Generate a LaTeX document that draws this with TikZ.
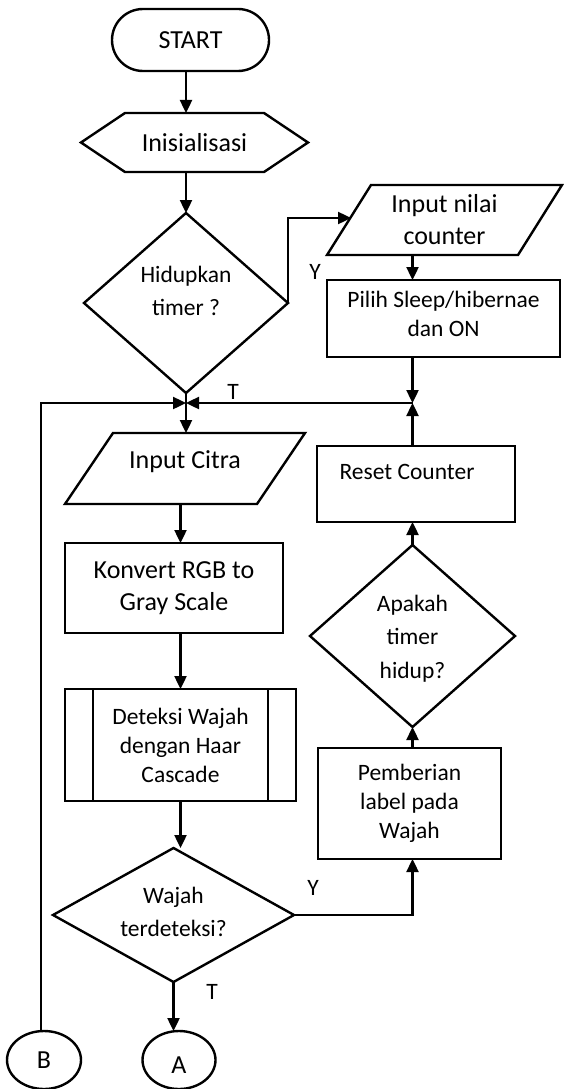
\documentclass[tikz,border=0pt]{standalone}
\usepackage{fontspec}
\setmainfont{Carlito}
\usetikzlibrary{shapes.geometric,shapes.misc,arrows.meta}

\begin{document}
\begin{tikzpicture}[x=1pt,y=-1pt,
  line width=2.4pt,
  big/.style={font=\fontsize{26}{32}\selectfont},
  small/.style={font=\fontsize{23.5}{29}\selectfont},
  frame/.style={draw, rectangle, inner sep=0pt, outer sep=0pt, align=center},
  blank/.style={rectangle, inner sep=0pt, outer sep=0pt, align=center},
  dia/.style={draw, diamond, inner sep=0pt, outer sep=0pt},
  oval/.style={draw, ellipse, inner sep=0pt, outer sep=0pt, big},
  conn/.style={-{Triangle[length=13pt,width=12pt]}},
  lbl/.style={small, inner sep=0pt},
]
\useasboundingbox (0,0) rectangle (563,1089);

% ---------- left column ----------
\node[draw, rounded rectangle, inner sep=0pt, outer sep=0pt, big,
      minimum width=157pt, minimum height=62pt] (start) at (190.5,40) {START};

\node[blank, big, minimum width=227pt, minimum height=59pt] (ini) at (194.5,142.5) {Inisialisasi};
\draw ([xshift=44pt]ini.north west) -- ([xshift=-44pt]ini.north east) -- (ini.east)
  -- ([xshift=-44pt]ini.south east) -- ([xshift=44pt]ini.south west) -- (ini.west) -- cycle;

\node[dia, minimum width=204pt, minimum height=180pt,
      label={[small, align=center, yshift=12pt, font=\fontsize{23.5}{33}\selectfont]center:Hidupkan\\timer ?}]
      (q1) at (186,303) {};

\coordinate (J) at (186,403);

\node[blank, minimum width=240pt, minimum height=71pt,
      label={[big, yshift=6.5pt]center:Input Citra}] (cit) at (185,468.5) {};
\draw ([xshift=48pt]cit.north west) -- (cit.north east) -- ([xshift=-48pt]cit.south east)
  -- (cit.south west) -- cycle;

\node[frame, big, minimum width=218pt, minimum height=90pt] (konv) at (174,588)
  {Konvert RGB to\\Gray Scale};

\node[frame, small, minimum width=231pt, minimum height=112pt] (det) at (180.5,745)
  {Deteksi Wajah\\dengan Haar\\Cascade};
\draw ([xshift=28pt]det.north west) -- ([xshift=28pt]det.south west);
\draw ([xshift=-28pt]det.north east) -- ([xshift=-28pt]det.south east);

\node[dia, minimum width=241pt, minimum height=134pt,
      label={[align=center, yshift=3.5pt, font=\fontsize{23.5}{33}\selectfont]center:Wajah\\terdeteksi?}]
      (q3) at (173.5,915) {};

\node[oval, minimum width=73pt, minimum height=58pt,
      label={[big, yshift=-5pt]center:A}] (A) at (179,1060) {};
\node[oval, minimum width=74pt, minimum height=58pt] (B) at (44,1060) {B};

% ---------- right column ----------
\node[blank, big, minimum width=235pt, minimum height=70pt] (inp2) at (444.5,220)
  {Input nilai\\counter};
\draw ([xshift=44pt]inp2.north west) -- (inp2.north east) -- ([xshift=-44pt]inp2.south east)
  -- (inp2.south west) -- cycle;
\coordinate (yin) at (351,218);

\node[frame, minimum width=233pt, minimum height=77pt,
      label={[small, align=center, yshift=5pt]center:Pilih Sleep/hibernae\\dan ON}]
      (pilih) at (443.5,318.5) {};

\coordinate (K) at (412.5,403);

\node[frame, minimum width=198pt, minimum height=76pt,
      label={[small, xshift=-9pt, yshift=12pt]center:Reset Counter}]
      (reset) at (416,484) {};

\node[dia, minimum width=205pt, minimum height=182pt,
      label={[align=center, yshift=-2.5pt, font=\fontsize{23.5}{33.5}\selectfont]center:Apakah\\timer\\hidup?}]
      (q2) at (412.5,636) {};

\node[frame, small, minimum width=183pt, minimum height=111pt] (pemb) at (409.5,803.5)
  {Pemberian\\label pada\\Wajah};

% ---------- connectors ----------
\draw[conn] (start.south -| q1.north) -- (ini.north -| q1.north);
\draw[conn] (ini.south -| q1.north) -- (q1.north);
\draw[conn] (q1.east) |- (yin);
\draw (q1.south) -- (J);
\draw[conn] (inp2.south -| K) -- (pilih.north -| K);
\draw[conn] (pilih.south -| K) -- (K);
\draw[conn] (reset.north -| K) -- (K);
\draw[conn] (K) -- (J);
\draw[conn] ([xshift=-3pt]B.north) |- (J);
\draw[conn] (J) -- (J |- cit.north);
\draw[conn] (cit.south -| det.north) -- (konv.north -| det.north);
\draw[conn] (konv.south -| det.north) -- (det.north);
\draw[conn] (det.south) -- (det.south |- q3.north);
\draw[conn] (q3.east) -| (pemb.south -| q2.south);
\draw[conn] (pemb.north -| q2.south) -- (q2.south);
\draw[conn] (q2.north) -- (reset.south -| q2.north);
\draw[conn] (q3.south) -- (q3.south |- A.north);

% ---------- branch labels ----------
\node[lbl] (ly1) at (315,272) {Y};
\node[lbl] (lt1) at (233,392) {T};
\node[lbl] (ly2) at (313,888) {Y};
\node[lbl] (lt2) at (212,992) {T};
\end{tikzpicture}
\end{document}
